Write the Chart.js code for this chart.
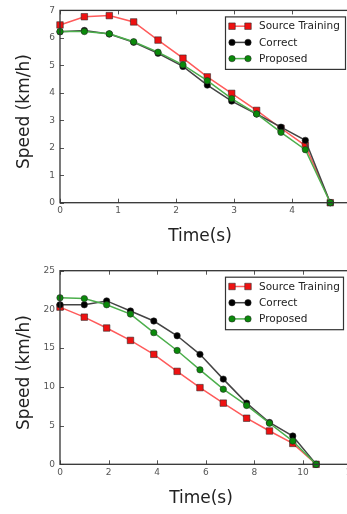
<!DOCTYPE html>
<html>
<head>
<meta charset="utf-8">
<script src="https://cdn.jsdelivr.net/npm/chart.js@4/dist/chart.umd.min.js"></script>
<style>
html,body{margin:0;padding:0;background:#fff;overflow:hidden;width:347px;height:514px;}
#c1{position:absolute;left:0;top:0;}
#c2{position:absolute;left:0;top:255px;}
</style>
</head>
<body>
<canvas id="c1" width="380" height="255"></canvas>
<canvas id="c2" width="380" height="259"></canvas>
<script>
// ---- Data: top chart ----
const seriesNames = ['Source Training', 'Correct', 'Proposed'];
const timeA = [0, 0.42, 0.85, 1.27, 1.69, 2.12, 2.54, 2.96, 3.39, 3.81, 4.23, 4.66];
const sourceA = [6.47, 6.77, 6.81, 6.58, 5.92, 5.26, 4.58, 3.98, 3.36, 2.71, 2.08, 0];
const correctA = [6.22, 6.27, 6.14, 5.84, 5.44, 4.96, 4.28, 3.70, 3.23, 2.75, 2.27, 0];
const proposedA = [6.23, 6.23, 6.15, 5.86, 5.48, 5.02, 4.44, 3.79, 3.23, 2.56, 1.93, 0];
const xTicksA = [0, 1, 2, 3, 4, 5];
const yTicksA = [0, 1, 2, 3, 4, 5, 6, 7];

// ---- Data: bottom chart ----
const timeB = [0, 1.0, 1.92, 2.9, 3.86, 4.82, 5.76, 6.72, 7.68, 8.62, 9.58, 10.54];
const sourceB = [20.3, 19.0, 17.6, 16.0, 14.2, 12.0, 9.9, 7.9, 5.95, 4.3, 2.7, 0];
const correctB = [20.6, 20.6, 21.1, 19.8, 18.5, 16.6, 14.2, 11.0, 7.9, 5.4, 3.65, 0];
const proposedB = [21.5, 21.4, 20.6, 19.4, 17.0, 14.7, 12.2, 9.7, 7.6, 5.3, 3.0, 0];
const xTicksB = [0, 2, 4, 6, 8, 10, 12];
const yTicksB = [0, 5, 10, 15, 20, 25];

const xTitle = 'Time(s)';
const yTitle = 'Speed (km/h)';

const styles = [
  {line: '#ff5a5a', fill: '#ee1111', style: 'rect', r: 4.6, order: 3},
  {line: '#444444', fill: '#000000', style: 'circle', r: 3.2, order: 2},
  {line: '#4caf4c', fill: '#0a8a0a', style: 'circle', r: 3.2, order: 1}
];

const FONT = '"DejaVu Sans", sans-serif';

function pts(xs, ys){ return xs.map((x,i)=>({x:x, y:ys[i]})); }

function makeDatasets(xs, arrs){
  return arrs.map((ys, i) => ({
    label: seriesNames[i],
    data: pts(xs, ys),
    borderColor: styles[i].line,
    borderWidth: 1.5,
    backgroundColor: styles[i].fill,
    pointBackgroundColor: styles[i].fill,
    pointBorderColor: 'rgba(40,40,40,0.7)',
    pointBorderWidth: 0.8,
    pointStyle: styles[i].style,
    pointRadius: styles[i].r,
    pointHoverRadius: styles[i].r,
    tension: 0,
    order: styles[i].order,
    clip: false
  }));
}

const decorPlugin = {
  id: 'decor',
  beforeDatasetsDraw(chart){
    const ctx = chart.ctx, a = chart.chartArea;
    const xs = chart.scales.x, ys = chart.scales.y;
    ctx.save();
    ctx.strokeStyle = '#555';
    ctx.lineWidth = 1;
    ctx.beginPath();
    xs.ticks.forEach(t => {
      const px = Math.round(xs.getPixelForValue(t.value)) + 0.5;
      ctx.moveTo(px, a.bottom); ctx.lineTo(px, a.bottom - 4);
      ctx.moveTo(px, a.top); ctx.lineTo(px, a.top + 4);
    });
    ys.ticks.forEach(t => {
      const py = Math.round(ys.getPixelForValue(t.value)) + 0.5;
      ctx.moveTo(a.left, py); ctx.lineTo(a.left + 4, py);
    });
    ctx.stroke();
    ctx.restore();
  },
  afterDraw(chart){
    const ctx = chart.ctx, a = chart.chartArea;
    const o = chart.options.plugins.decor;
    ctx.save();
    // frame
    ctx.strokeStyle = '#333';
    ctx.lineWidth = 1.3;
    ctx.strokeRect(a.left, a.top, a.right - a.left, a.bottom - a.top);
    // titles
    ctx.fillStyle = '#222';
    ctx.font = '17px ' + FONT;
    ctx.textAlign = 'center';
    ctx.textBaseline = 'middle';
    ctx.fillText(xTitle, a.left + o.xTitleDx, a.bottom + o.xTitleDy);
    ctx.save();
    ctx.translate(o.yTitleX, (a.top + a.bottom) / 2 + o.yTitleDy);
    ctx.rotate(-Math.PI / 2);
    ctx.fillText(yTitle, 0, 0);
    ctx.restore();
    // legend
    const lx = o.legX, ly = a.top + 6, lw = o.legW, lh = 52.5;
    ctx.fillStyle = '#fff';
    ctx.fillRect(lx, ly, lw, lh);
    ctx.strokeStyle = '#333';
    ctx.lineWidth = 1.2;
    ctx.strokeRect(lx + 0.5, ly + 0.5, lw, lh);
    chart.data.datasets.forEach((ds, i) => {
      const y = ly + 9.8 + i * 16.2;
      const x0 = lx + 7, x1 = lx + 23;
      ctx.strokeStyle = ds.borderColor;
      ctx.lineWidth = 1.5;
      ctx.beginPath(); ctx.moveTo(x0, y); ctx.lineTo(x1, y); ctx.stroke();
      const opt = {pointStyle: ds.pointStyle, radius: ds.pointRadius, rotation: 0, borderWidth: 0.8};
      ctx.fillStyle = ds.pointBackgroundColor;
      ctx.strokeStyle = ds.pointBorderColor;
      ctx.lineWidth = 0.8;
      Chart.helpers.drawPoint(ctx, opt, x0, y);
      Chart.helpers.drawPoint(ctx, opt, x1, y);
      ctx.fillStyle = '#222';
      ctx.font = '10.5px ' + FONT;
      ctx.textAlign = 'left';
      ctx.textBaseline = 'middle';
      ctx.fillText(ds.label, lx + 34, y + 0.5);
    });
    ctx.restore();
  }
};

function makeChart(id, xs, arrs, xTicks, yTicks, xMax, yMax, pad, xAxisH, decor){
  return new Chart(document.getElementById(id), {
    type: 'line',
    data: { datasets: makeDatasets(xs, arrs) },
    options: {
      responsive: false,
      animation: false,
      events: [],
      layout: { padding: pad },
      plugins: { legend: {display: false}, tooltip: {enabled: false}, decor: decor },
      scales: {
        x: {
          type: 'linear', min: 0, max: xMax,
          afterBuildTicks: s => { s.ticks = xTicks.map(v => ({value: v})); },
          grid: {display: false, drawTicks: false},
          border: {display: false},
          ticks: {color: '#555', font: {family: FONT, size: 9}, padding: 3, maxRotation: 0, autoSkip: false},
          afterFit: s => { s.height = xAxisH; }
        },
        y: {
          type: 'linear', min: 0, max: yMax,
          afterBuildTicks: s => { s.ticks = yTicks.map(v => ({value: v})); },
          grid: {display: false, drawTicks: false},
          border: {display: false},
          ticks: {color: '#555', font: {family: FONT, size: 9}, padding: 5, autoSkip: false},
          afterFit: s => { s.width = 60; }
        }
      }
    },
    plugins: [decorPlugin]
  });
}

makeChart('c1', timeA, [sourceA, correctA, proposedA], xTicksA, yTicksA, 5, 7,
  {left: 0, right: 30, top: 8, bottom: 0}, 52.3,
  {xTitleDx: 140, xTitleDy: 34, yTitleX: 25, yTitleDy: 5, legX: 225, legW: 120});

makeChart('c2', timeB, [sourceB, correctB, proposedB], xTicksB, yTicksB, 12, 25,
  {left: 0, right: 28.4, top: 15.7, bottom: 0}, 49.7,
  {xTitleDx: 141, xTitleDy: 34, yTitleX: 25, yTitleDy: 5, legX: 225, legW: 118});
</script>
</body>
</html>
